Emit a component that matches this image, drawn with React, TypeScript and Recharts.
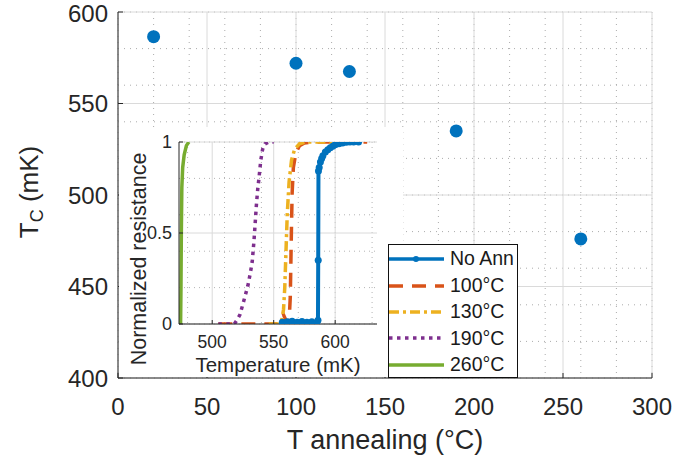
import React from 'react';
import { ScatterChart, Scatter, LineChart, Line, XAxis, YAxis, CartesianGrid, Legend, Label } from 'recharts';

// main plot: Tc vs annealing temperature
const annealTemps = [20, 100, 130, 190, 260];
const tcValues = [586.5, 572, 567.5, 535, 476];

const xTicks = [0, 50, 100, 150, 200, 250, 300];
const yTicks = [400, 450, 500, 550, 600];

// inset: normalized resistance vs temperature (mK)
const insetXTicks = [500, 550, 600];
const insetYTicks = [0, 0.5, 1];

const noAnnT = [557, 559, 561, 563, 565, 567, 569, 571, 573, 575, 577, 579, 581, 583, 585, 586, 586.2, 586.4, 587, 588, 589, 590, 592, 594, 596, 598, 600, 603, 606, 609, 612, 615, 619];
const noAnnR = [0.01, 0, 0.012, 0.005, 0.015, 0, 0.01, 0.006, 0.014, 0, 0.01, 0.004, 0.012, 0, 0.008, 0.02, 0.35, 0.84, 0.86, 0.89, 0.91, 0.925, 0.945, 0.958, 0.968, 0.977, 0.985, 0.991, 0.995, 0.998, 1, 1, 1];

const ann100T = [505, 515, 525, 535, 545, 553, 556, 558, 560, 562.5, 563.5, 564, 564.5, 565, 566, 568, 571, 575, 585, 600, 615, 626];
const ann100R = [0, 0, 0, 0, 0, 0, 0.03, 0.05, 0.02, 0.01, 0.15, 0.35, 0.55, 0.72, 0.86, 0.94, 0.98, 0.995, 1, 1, 1, 1];

const ann130T = [546, 550, 554, 556.5, 558, 559, 560, 561, 562.5, 564.5, 567, 571, 576, 585, 600, 612];
const ann130R = [0, 0, 0, 0.02, 0.08, 0.2, 0.4, 0.6, 0.78, 0.9, 0.96, 0.99, 1, 1, 1, 1];

const ann190T = [505, 510, 515, 518, 520, 522.5, 525, 527, 529, 531, 532.5, 534, 535, 536, 537, 538, 539.5, 541, 543, 546, 550];
const ann190R = [0, 0, 0, 0, 0.02, 0.05, 0.11, 0.16, 0.21, 0.28, 0.34, 0.46, 0.56, 0.66, 0.74, 0.8, 0.9, 0.96, 0.99, 1, 1];

const ann260T = [474.3, 474.6, 474.9, 475.3, 476, 477.2, 479, 481];
const ann260R = [0, 0.2, 0.5, 0.75, 0.86, 0.93, 0.98, 1];

const steps = (from: number, to: number, step: number) => {
  const out: number[] = [];
  for (let v = from; v <= to + 1e-9; v += step) out.push(Math.round(v * 1000) / 1000);
  return out;
};

// minor (dotted) grid positions
const mainMinorX = steps(0, 300, 10);
const mainMinorY = steps(400, 600, 10);
const insetMinorX = steps(480, 630, 10);
const insetMinorY = steps(0, 1, 0.1);

const zip = (t: number[], r: number[]) => t.map((v, i) => ({ t: v, r: r[i] }));

const insetSeries = [
  { name: 'No Ann', data: zip(noAnnT, noAnnR), color: '#0072BD', dash: undefined, dot: true },
  { name: '100°C', data: zip(ann100T, ann100R), color: '#D95319', dash: '14 9', dot: false },
  { name: '130°C', data: zip(ann130T, ann130R), color: '#EDB120', dash: '10 4 3 4', dot: false },
  { name: '190°C', data: zip(ann190T, ann190R), color: '#7E2F8E', dash: '3.5 4.5', dot: false },
  { name: '260°C', data: zip(ann260T, ann260R), color: '#77AC30', dash: undefined, dot: false },
];

const mainPoints = annealTemps.map((a, i) => ({ anneal: a, tc: tcValues[i] }));

const INK = '#262626';

const TcLabel = () => (
  <text x={37.5} y={192} transform="rotate(-90 37.5 192)" textAnchor="middle" fontSize={26} fill={INK}>
    T<tspan fontSize={18} dy={5}>C</tspan>
    <tspan dy={-5}> (mK)</tspan>
  </text>
);

const ResistanceLabel = () => (
  <text x={27} y={132} transform="rotate(-90 27 132)" textAnchor="middle" fontSize={21.5} fill={INK}>
    Normalized resistance
  </text>
);

// legend box, drawn in the series order of the original figure
const InsetLegend = () => (
  <div
    style={{
      boxSizing: 'border-box',
      width: 130,
      height: 134,
      border: '1px solid #111',
      background: '#fff',
      paddingTop: 1,
    }}
  >
    {insetSeries.map((s) => (
      <div key={s.name} style={{ display: 'flex', alignItems: 'center', height: 26.4 }}>
        <svg width={56} height={12} style={{ display: 'block' }}>
          <line x1={0} x2={55} y1={6} y2={6} stroke={s.color} strokeWidth={3.5} strokeDasharray={s.dash} />
          {s.dot && <circle cx={27} cy={6} r={3} fill={s.color} />}
        </svg>
        <span style={{ marginLeft: 5, fontSize: 19.5, color: '#1a1a1a', lineHeight: 1 }}>{s.name}</span>
      </div>
    ))}
  </div>
);

function App() {
  return (
    <div style={{ position: 'absolute', left: 0, top: 0, width: 697, height: 460, background: '#fff', fontFamily: '"Liberation Sans", Arial, Helvetica, sans-serif' }}>
      <ScatterChart width={697} height={460} margin={{ top: 12, right: 45, bottom: 0, left: 0 }}>
        <CartesianGrid verticalValues={mainMinorX} horizontalValues={mainMinorY} stroke="#acacac" strokeDasharray="1 5" />
        <CartesianGrid verticalValues={xTicks} horizontalValues={yTicks} stroke="#dadada" />
        <XAxis
          type="number"
          dataKey="anneal"
          domain={[0, 300]}
          ticks={xTicks}
          height={82}
          tickSize={-5}
          tickMargin={25}
          stroke={INK}
          tick={{ fill: INK, fontSize: 24 }}
          allowDataOverflow
        >
          <Label value="T annealing (°C)" position="insideBottom" offset={11} fontSize={27} fill={INK} />
        </XAxis>
        <YAxis
          type="number"
          dataKey="tc"
          domain={[400, 600]}
          ticks={yTicks}
          width={118}
          tickSize={-5}
          tickMargin={15}
          stroke={INK}
          tick={{ fill: INK, fontSize: 24 }}
          allowDataOverflow
          label={<TcLabel />}
        />
        <XAxis xAxisId="top" orientation="top" type="number" domain={[0, 300]} ticks={xTicks} height={0} tickSize={-5} tick={false} stroke={INK} />
        <YAxis yAxisId="right" orientation="right" type="number" domain={[400, 600]} ticks={yTicks} width={0} tickSize={-5} tick={false} stroke={INK} />
        <Scatter
          data={mainPoints}
          fill="#0072BD"
          isAnimationActive={false}
          shape={(p: any) => <circle cx={p.cx} cy={p.cy} r={6.5} fill="#0072BD" />}
        />
      </ScatterChart>

      <div style={{ position: 'absolute', left: 119, top: 127, width: 284, height: 250, background: '#fff' }}>
        <LineChart width={284} height={250} margin={{ top: 15, right: 26, bottom: 0, left: 0 }}>
          <CartesianGrid verticalValues={insetMinorX} horizontalValues={insetMinorY} stroke="#b4b4b4" strokeDasharray="1 4" />
          <CartesianGrid verticalValues={insetXTicks} horizontalValues={insetYTicks} stroke="#dadada" />
          <XAxis
            type="number"
            dataKey="t"
            domain={[473, 634]}
            ticks={insetXTicks}
            height={53}
            tickSize={-4}
            tickMargin={16}
            stroke={INK}
            tick={{ fill: INK, fontSize: 17.5 }}
            allowDataOverflow
          >
            <Label value="Temperature (mK)" position="insideBottom" offset={5} fontSize={20.5} fill={INK} />
          </XAxis>
          <YAxis
            type="number"
            domain={[0, 1]}
            ticks={insetYTicks}
            width={60}
            tickSize={-4}
            tickMargin={11}
            stroke={INK}
            tick={{ fill: INK, fontSize: 18 }}
            allowDataOverflow
            label={<ResistanceLabel />}
          />
          <XAxis xAxisId="top" orientation="top" type="number" domain={[473, 634]} ticks={insetXTicks} height={0} tickSize={-4} tick={false} stroke={INK} />
          <YAxis yAxisId="right" orientation="right" type="number" domain={[0, 1]} ticks={insetYTicks} width={0} tickSize={-4} tick={false} stroke={INK} />
          {insetSeries.map((s) => (
            <Line
              key={s.name}
              name={s.name}
              data={s.data}
              dataKey="r"
              type="linear"
              stroke={s.color}
              strokeWidth={s.dot ? 4 : 3.5}
              strokeDasharray={s.dash}
              dot={s.dot ? { r: 3.5, fill: s.color, stroke: 'none' } : false}
              activeDot={false}
              isAnimationActive={false}
            />
          ))}
          <Legend
            layout="vertical"
            align="center"
            verticalAlign="middle"
            content={<InsetLegend />}
            wrapperStyle={{ position: 'absolute', left: 269, top: 117, width: 130, height: 134 }}
          />
        </LineChart>
      </div>
    </div>
  );
}

export default App;
